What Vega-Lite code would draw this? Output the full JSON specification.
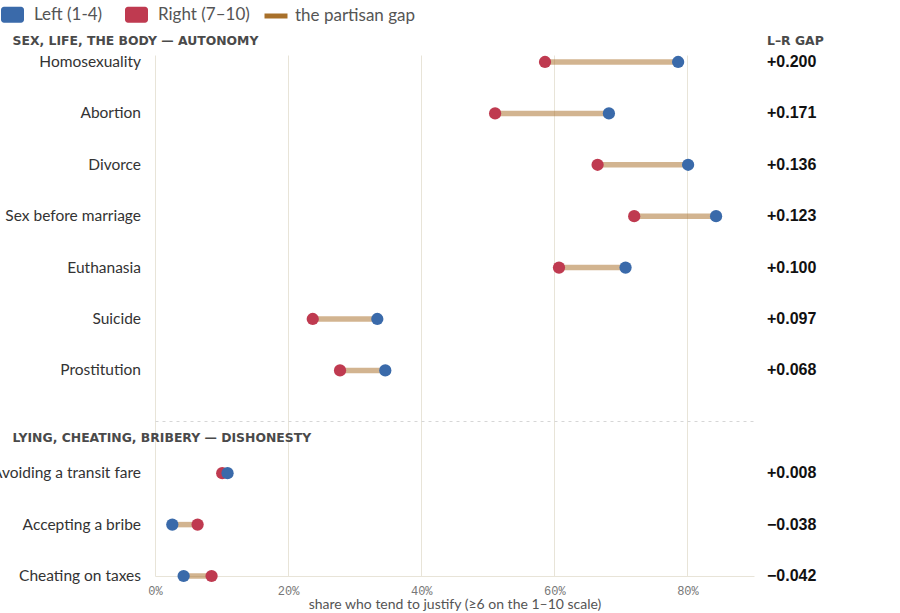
{
  "$schema": "https://vega.github.io/schema/vega-lite/v6.json",
  "width": 599,
  "height": 521,
  "autosize": {"type": "none"},
  "padding": {"left": 155, "top": 55, "right": 146, "bottom": 37},
  "background": "white",
  "config": {"view": {"stroke": null}, "font": "Lato"},
  "data": {
    "values": [
      {"item": "Homosexuality", "rank": 0, "left": 0.786, "right": 0.586, "gap": 0.200},
      {"item": "Abortion", "rank": 1, "left": 0.682, "right": 0.511, "gap": 0.171},
      {"item": "Divorce", "rank": 2, "left": 0.801, "right": 0.665, "gap": 0.136},
      {"item": "Sex before marriage", "rank": 3, "left": 0.843, "right": 0.720, "gap": 0.123},
      {"item": "Euthanasia", "rank": 4, "left": 0.707, "right": 0.607, "gap": 0.100},
      {"item": "Suicide", "rank": 5, "left": 0.334, "right": 0.237, "gap": 0.097},
      {"item": "Prostitution", "rank": 6, "left": 0.346, "right": 0.278, "gap": 0.068},
      {"item": "Avoiding a transit fare", "rank": 8, "left": 0.109, "right": 0.101, "gap": 0.008},
      {"item": "Accepting a bribe", "rank": 9, "left": 0.026, "right": 0.064, "gap": -0.038},
      {"item": "Cheating on taxes", "rank": 10, "left": 0.043, "right": 0.085, "gap": -0.042}
    ]
  },
  "layer": [
    {
      "transform": [{"calculate": "'the partisan gap'", "as": "series"}],
      "mark": {"type": "rule", "strokeWidth": 5.5, "opacity": 0.52, "strokeCap": "butt"},
      "encoding": {
        "y": {
          "field": "rank", "type": "quantitative",
          "scale": {"domain": [-0.136, 10], "reverse": true, "nice": false, "zero": false},
          "axis": {"values": [6.98], "grid": true, "gridDash": [3, 4], "gridColor": "#d6d6d6", "gridWidth": 1, "labels": false, "ticks": false, "domain": false, "title": null}
        },
        "x": {
          "field": "right", "type": "quantitative",
          "scale": {"domain": [0, 0.9], "nice": false, "zero": false},
          "axis": {
            "values": [0, 0.2, 0.4, 0.6, 0.8], "format": ".0%", "grid": true, "labelFlush": false,
            "gridColor": "#e8e4d8", "domainColor": "#e8e4d8", "ticks": false,
            "labelFont": "Liberation Mono", "labelFontSize": 12, "labelColor": "#777", "labelPadding": 9,
            "title": "share who tend to justify (≥6 on the 1–10 scale)",
            "titleFont": "Lato", "titleFontSize": 14, "titleFontWeight": "normal", "titleColor": "#555", "titlePadding": 1
          }
        },
        "x2": {"field": "left"},
        "stroke": {
          "field": "series", "type": "nominal",
          "scale": {"range": ["#a8702a"]},
          "legend": {
            "orient": "none", "legendX": 107, "legendY": -53, "direction": "horizontal", "title": null,
            "labelFont": "Lato", "labelFontSize": 17, "labelColor": "#555", "labelOffset": 5,
            "padding": 0, "symbolSize": 529, "symbolType": "stroke", "symbolStrokeWidth": 5,
            "symbolOpacity": 1
          }
        }
      }
    },
    {
      "transform": [{"fold": ["right", "left"], "as": ["side", "share"]}],
      "mark": {"type": "circle", "size": 150, "opacity": 1},
      "encoding": {
        "y": {
          "field": "rank", "type": "quantitative",
          "scale": {"domain": [-0.136, 10], "reverse": true, "nice": false, "zero": false},
          "axis": {"values": [6.98], "grid": true, "gridDash": [3, 4], "gridColor": "#d6d6d6", "gridWidth": 1, "labels": false, "ticks": false, "domain": false, "title": null}
        },
        "x": {
          "field": "share", "type": "quantitative",
          "scale": {"domain": [0, 0.9], "nice": false, "zero": false},
          "axis": {
            "values": [0, 0.2, 0.4, 0.6, 0.8], "format": ".0%", "grid": true, "labelFlush": false,
            "gridColor": "#e8e4d8", "domainColor": "#e8e4d8", "ticks": false,
            "labelFont": "Liberation Mono", "labelFontSize": 12, "labelColor": "#777", "labelPadding": 9,
            "title": "share who tend to justify (≥6 on the 1–10 scale)",
            "titleFont": "Lato", "titleFontSize": 14, "titleFontWeight": "normal", "titleColor": "#555", "titlePadding": 1
          }
        },
        "color": {
          "field": "side", "type": "nominal",
          "scale": {"domain": ["left", "right"], "range": ["#3a6aaa", "#bf3a50"]},
          "legend": {
            "orient": "none", "legendX": -155, "legendY": -53, "direction": "horizontal", "title": null,
            "labelFont": "Lato", "labelFontSize": 17, "labelColor": "#555", "labelOffset": 9,
            "columnPadding": 21, "padding": 0, "symbolSize": 529,
            "symbolType": "M-0.74,-0.696H0.74A0.26,0.26 0 0 1 1,-0.436V0.436A0.26,0.26 0 0 1 0.74,0.696H-0.74A0.26,0.26 0 0 1 -1,0.436V-0.436A0.26,0.26 0 0 1 -0.74,-0.696Z",
            "labelExpr": "datum.value === 'left' ? 'Left (1-4)' : 'Right (7–10)'"
          }
        }
      }
    },
    {
      "mark": {"type": "text", "align": "right", "baseline": "middle", "dx": -14, "font": "Lato", "fontSize": 15.5, "color": "#333"},
      "encoding": {
        "y": {
          "field": "rank", "type": "quantitative",
          "axis": {"values": [6.98], "grid": true, "gridDash": [3, 4], "gridColor": "#d6d6d6", "gridWidth": 1, "labels": false, "ticks": false, "domain": false, "title": null}
        },
        "x": {"datum": 0, "type": "quantitative"},
        "text": {"field": "item"}
      }
    },
    {
      "mark": {"type": "text", "align": "left", "baseline": "middle", "dx": 13, "font": "Liberation Sans", "fontWeight": "bold", "fontSize": 16, "color": "#111"},
      "encoding": {
        "y": {
          "field": "rank", "type": "quantitative",
          "axis": {"values": [6.98], "grid": true, "gridDash": [3, 4], "gridColor": "#d6d6d6", "gridWidth": 1, "labels": false, "ticks": false, "domain": false, "title": null}
        },
        "x": {"datum": 0.9, "type": "quantitative"},
        "text": {"field": "gap", "format": "+.3f"}
      }
    },
    {
      "data": {"values": [{"label": "SEX, LIFE, THE BODY — AUTONOMY"}]},
      "mark": {"type": "text", "align": "left", "baseline": "middle", "font": "DejaVu Sans", "fontWeight": "bold", "fontSize": 12.4, "color": "#4a4a4a"},
      "encoding": {
        "y": {"datum": -0.41, "type": "quantitative"},
        "x": {"datum": -0.214, "type": "quantitative"},
        "text": {"field": "label"}
      }
    },
    {
      "data": {"values": [{"label": "LYING, CHEATING, BRIBERY — DISHONESTY"}]},
      "mark": {"type": "text", "align": "left", "baseline": "middle", "font": "DejaVu Sans", "fontWeight": "bold", "fontSize": 12.4, "color": "#4a4a4a"},
      "encoding": {
        "y": {"datum": 7.32, "type": "quantitative"},
        "x": {"datum": -0.214, "type": "quantitative"},
        "text": {"field": "label"}
      }
    },
    {
      "data": {"values": [{"label": "L–R GAP"}]},
      "mark": {"type": "text", "align": "left", "baseline": "middle", "dx": 13, "font": "DejaVu Sans", "fontWeight": "bold", "fontSize": 12.4, "color": "#4a4a4a"},
      "encoding": {
        "y": {"datum": -0.41, "type": "quantitative"},
        "x": {"datum": 0.9, "type": "quantitative"},
        "text": {"field": "label"}
      }
    }
  ]
}
